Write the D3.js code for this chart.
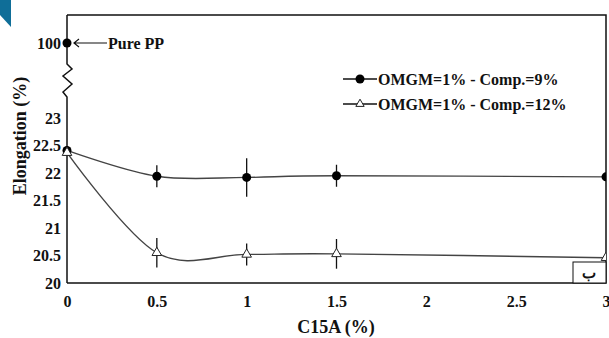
<!DOCTYPE html>
<html>
<head>
<meta charset="utf-8">
<script src="https://cdn.jsdelivr.net/npm/d3@7"></script>
<style>
  html, body { margin: 0; padding: 0; background: #fff; }
  svg { display: block; }
  text { font-family: "Liberation Serif", "Times New Roman", serif; font-weight: bold; fill: #111; }
</style>
</head>
<body>
<svg id="chart" width="609" height="338"></svg>
<script>
// C15A loading (%) and elongation (%) for the two compositions
const loadings = [0, 0.5, 1, 1.5, 3];
const comp9 = [22.41, 21.94, 21.92, 21.95, 21.93];
const comp9Err = [0, 0.2, 0.35, 0.2, 0];
const comp12 = [22.37, 20.55, 20.52, 20.53, 20.46];
const comp12Err = [0, 0.27, 0.2, 0.27, 0];
const purePP = 100;

const xTicks = [0, 0.5, 1, 1.5, 2, 2.5, 3];
const yTicks = [20, 20.5, 21, 21.5, 22, 22.5, 23, 100];
const seriesNames = ["OMGM=1% - Comp.=9%", "OMGM=1% - Comp.=12%"];

const svg = d3.select("#chart");
const plotLeft = 67, plotRight = 606, plotTop = 15, plotBottom = 283;

// corner ribbon
svg.append("polygon").attr("points", "0,0 11,0 11,27 0,15").attr("fill", "#0f6e98");

const x = d3.scaleLinear().domain([0, 3]).range([plotLeft, plotRight]);
// broken axis: 20–23 on the main span, 100 shown above the break
const y = d3.scaleLinear().domain([20, 23, 100]).range([plotBottom, 118, 43]);

// frame: top, right, bottom
svg.append("path")
  .attr("d", `M${plotLeft},${plotTop}H${plotRight}V${plotBottom}H${plotLeft}`)
  .attr("fill", "none").attr("stroke", "#111").attr("stroke-width", 1.5);

// left axis with break zigzag
svg.append("path")
  .attr("d", `M${plotLeft},${plotBottom}V97L63,92L72,84L63,76L72,69L67,64V${plotTop}`)
  .attr("fill", "none").attr("stroke", "#111").attr("stroke-width", 1.5);

// y tick labels
const yAxis = svg.append("g").attr("transform", `translate(${plotLeft},0)`)
  .call(d3.axisLeft(y).tickValues(yTicks).tickSize(0).tickPadding(6).tickFormat(d3.format("")));
yAxis.select(".domain").remove();
yAxis.selectAll("text").attr("font-size", 16).attr("font-family", null).attr("fill", "#111");

// x tick labels
const xAxis = svg.append("g").attr("transform", `translate(0,${plotBottom})`)
  .call(d3.axisBottom(x).tickValues(xTicks).tickSize(0).tickPadding(13).tickFormat(d3.format("")));
xAxis.select(".domain").remove();
xAxis.selectAll("text").attr("font-size", 16).attr("font-family", null).attr("fill", "#111");

// axis titles
svg.append("text").attr("x", 336).attr("y", 333).attr("text-anchor", "middle")
  .attr("font-size", 18).text("C15A (%)");
svg.append("text").attr("transform", "translate(26,136) rotate(-90)").attr("text-anchor", "middle")
  .attr("font-size", 18).text("Elongation (%)");

// plot marks, clipped at the right edge of the frame
svg.append("clipPath").attr("id", "plotClip")
  .append("rect").attr("x", 0).attr("y", 0).attr("width", plotRight).attr("height", 338);
const plot = svg.append("g").attr("clip-path", "url(#plotClip)");

const line = d3.line().x((d, i) => x(loadings[i])).y(d => y(d)).curve(d3.curveCardinal.tension(0));

const series = [
  { values: comp9, err: comp9Err, marker: "circle" },
  { values: comp12, err: comp12Err, marker: "triangle" }
];

const triangle = d3.symbol().type(d3.symbolTriangle).size(40);

series.forEach(s => {
  plot.append("path").attr("d", line(s.values))
    .attr("fill", "none").attr("stroke", "#444").attr("stroke-width", 1.4);
  // error bars
  plot.selectAll(null).data(s.values.map((v, i) => ({ v, e: s.err[i], xv: loadings[i] })).filter(d => d.e > 0))
    .join("line")
    .attr("x1", d => x(d.xv)).attr("x2", d => x(d.xv))
    .attr("y1", d => y(d.v - d.e)).attr("y2", d => y(d.v + d.e))
    .attr("stroke", "#111").attr("stroke-width", 1.3);
  if (s.marker === "circle") {
    plot.selectAll(null).data(s.values).join("circle")
      .attr("cx", (d, i) => x(loadings[i])).attr("cy", d => y(d)).attr("r", 4.5).attr("fill", "#000");
  } else {
    plot.selectAll(null).data(s.values).join("path")
      .attr("d", triangle)
      .attr("transform", (d, i) => `translate(${x(loadings[i])},${y(d)})`)
      .attr("fill", "#fff").attr("stroke", "#222").attr("stroke-width", 1);
  }
});

// Pure PP reference point and arrow
svg.append("circle").attr("cx", x(0)).attr("cy", y(purePP)).attr("r", 4.5).attr("fill", "#000");
svg.append("path").attr("d", `M107,${y(purePP)}H74M79,${y(purePP) - 4}L74,${y(purePP)}L79,${y(purePP) + 4}`)
  .attr("fill", "none").attr("stroke", "#111").attr("stroke-width", 1.2);
svg.append("text").attr("x", 108).attr("y", y(purePP)).attr("dy", "0.35em")
  .attr("font-size", 16).text("Pure PP");

// legend
const legend = svg.append("g");
seriesNames.forEach((name, i) => {
  const ly = 79 + i * 25;
  legend.append("line").attr("x1", 343).attr("x2", 377).attr("y1", ly).attr("y2", ly)
    .attr("stroke", "#111").attr("stroke-width", 1.5);
  if (i === 0) {
    legend.append("circle").attr("cx", 360).attr("cy", ly).attr("r", 4.5).attr("fill", "#000");
  } else {
    legend.append("path").attr("d", d3.symbol().type(d3.symbolTriangle).size(30))
      .attr("transform", `translate(360,${ly})`)
      .attr("fill", "#fff").attr("stroke", "#222").attr("stroke-width", 1);
  }
  legend.append("text").attr("x", 378).attr("y", ly).attr("dy", "0.35em")
    .attr("font-size", 16).text(name);
});

// panel tag
svg.append("rect").attr("x", 573).attr("y", 262).attr("width", plotRight - 573).attr("height", plotBottom - 262)
  .attr("fill", "#fff").attr("stroke", "#111").attr("stroke-width", 1);
svg.append("text").attr("x", 589).attr("y", 273).attr("dy", "0.35em").attr("text-anchor", "middle")
  .attr("font-size", 15).attr("font-family", "'DejaVu Sans', sans-serif").text("ب");
</script>
</body>
</html>
